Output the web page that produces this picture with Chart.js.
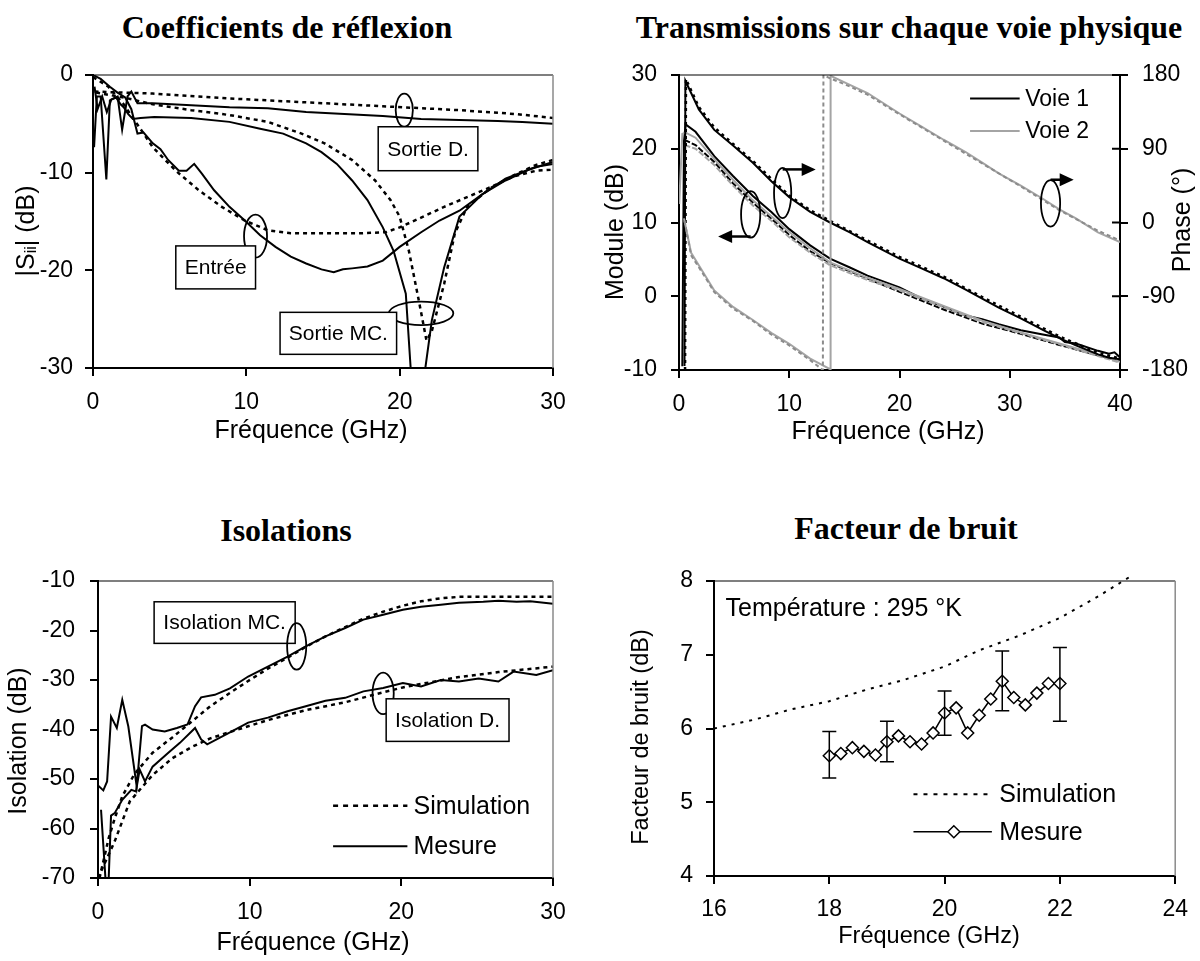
<!DOCTYPE html>
<html>
<head>
<meta charset="utf-8">
<script src="https://cdn.jsdelivr.net/npm/chart.js@4/dist/chart.umd.min.js"></script>
<style>
  body { margin:0; background:#fff; width:1200px; height:961px; position:relative; overflow:hidden; }
  .ttl { position:absolute; width:600px; text-align:center; line-height:40px;
         font:bold 32px "Liberation Serif","Times New Roman",serif; color:#000; white-space:nowrap; }
  canvas { position:absolute; }
</style>
</head>
<body>
<div class="ttl" style="left:-13px;top:9px">Coefficients de réflexion</div>
<div class="ttl" style="left:609px;top:9px">Transmissions sur chaque voie physique</div>
<div class="ttl" style="left:-14px;top:512px">Isolations</div>
<div class="ttl" style="left:606px;top:510px">Facteur de bruit</div>

<canvas id="cRefl" width="600" height="480" style="left:0;top:0"></canvas>
<canvas id="cTrans" width="600" height="480" style="left:600px;top:0"></canvas>
<canvas id="cIso" width="600" height="481" style="left:0;top:480px"></canvas>
<canvas id="cNf" width="600" height="481" style="left:600px;top:480px"></canvas>

<script>
// ---- Coefficients de réflexion (GHz / dB)
const entreeMesF = [0, 0.5, 1.1, 1.6, 2.1, 2.5, 2.9, 3.3, 3.9, 4.4, 4.9, 5.6, 6.1, 6.6, 7.1, 7.9, 8.9, 9.9, 10.9, 11.9, 12.9, 13.9, 14.9, 15.7, 16.3, 16.9, 17.9, 18.9, 20, 21.4, 22.6, 23.9, 25.4, 26.9, 28.4, 30];
const entreeMesDb = [0, -0.4, -1.2, -1.8, -2.3, -3.5, -6, -5.9, -7, -7.6, -8.7, -9.8, -9.8, -9.1, -10.1, -11.8, -13.5, -14.9, -16.4, -17.6, -18.6, -19.3, -19.9, -20.2, -19.9, -19.8, -19.6, -19, -17.6, -16.1, -14.9, -13.9, -12.2, -10.8, -9.7, -8.9];
const entreeSimF = [0, 1, 2, 3, 3.9, 5.4, 6.9, 8.4, 9.9, 11.4, 12.9, 15.1, 17.6, 19.1, 20, 21.4, 22.9, 24.4, 25.9, 27.4, 28.9, 30];
const entreeSimDb = [-0.2, -1.2, -3, -5.3, -7.4, -9.8, -11.8, -13.5, -14.9, -15.9, -16.2, -16.2, -16.2, -16.1, -15.6, -14.6, -13.5, -12.5, -11.5, -10.4, -9.8, -9.7];
const sortieDMesF = [0.07, 0.25, 0.5, 0.87, 1.1, 1.6, 1.9, 2.25, 2.5, 2.9, 3.9, 6.4, 8.9, 11.4, 13.9, 16.4, 18.9, 21.4, 23.9, 26.4, 28, 30];
const sortieDMesDb = [-7.4, -2.2, -2.2, -10.7, -2.6, -2.2, -5.6, -2.2, -1.7, -2.9, -2.9, -3.1, -3.3, -3.4, -3.8, -4.0, -4.2, -4.5, -4.6, -4.7, -4.8, -5.0];
const sortieDSimF = [0.1, 3.9, 8.9, 13.9, 18.9, 23.9, 27.6, 30];
const sortieDSimDb = [-1.7, -1.9, -2.4, -2.8, -3.2, -3.6, -4.0, -4.4];
const sortieMcMesF = [0.1, 0.3, 0.6, 0.9, 1.2, 1.5, 1.8, 2.0, 2.3, 2.6, 3.1, 4, 6.4, 8.9, 10.9, 12.4, 13.9, 14.9, 15.9, 16.9, 17.9, 18.9, 19.6, 20.4, 20.8, 21.5, 22.1, 22.9, 23.9, 25.4, 26.9, 28.9, 30];
const sortieMcMesDb = [-1.2, -3.5, -2.2, -3.8, -2.5, -2.3, -3.0, -3.3, -4.0, -4.5, -4.4, -4.3, -4.4, -4.8, -5.5, -6.0, -7.0, -7.9, -9.1, -10.8, -12.8, -15.6, -18.0, -22.4, -32, -32, -25.1, -19.7, -14.5, -12.2, -10.6, -9.4, -9.1];
const sortieMcSimF = [0.2, 2, 3.9, 6.4, 8.9, 11.4, 13.6, 15.1, 16.9, 18.4, 19.4, 20, 20.6, 21.25, 21.75, 22.1, 22.9, 23.6, 24.4, 25.9, 27.4, 28.9, 30];
const sortieMcSimDb = [-1.8, -2.3, -3.0, -3.6, -4.1, -4.8, -6.0, -7.0, -8.7, -10.8, -12.8, -14.5, -18, -23.1, -27.2, -26.2, -21.4, -16.2, -13.5, -11.6, -10.3, -9.2, -8.7];

// ---- Transmissions : module (dB) et phase (°)
const v1ModMesF = [0.3, 0.45, 0.6, 1.5, 3.2, 4.9, 6.7, 8.4, 10, 11.9, 13.7, 15.5, 17.1, 20, 22, 24, 26, 27.5, 29, 31, 33, 34.5, 35, 36, 38, 39, 39.5, 40];
const v1ModMesDb = [-9.5, 21, 23.3, 22.3, 19, 16.3, 13.6, 11.4, 9.1, 6.9, 5.1, 3.9, 2.8, 1.2, -0.3, -1.4, -2.6, -3.1, -3.8, -4.6, -5.2, -5.6, -6.2, -6.4, -7.4, -7.8, -7.6, -8.3];
const v1ModSimF = [0.5, 1.5, 3.2, 4.9, 6.7, 8.4, 10, 11.9, 13.7, 17.1, 20, 24, 27.5, 31, 34.5, 38, 40];
const v1ModSimDb = [21.2, 20.5, 18.2, 15.3, 12.7, 10.5, 8.3, 6.1, 4.5, 2.4, 0.6, -1.8, -3.7, -5.1, -6.6, -8, -8.8];
const v2ModMesF = [0.02, 0.3, 0.6, 1.5, 3.2, 4.9, 6.7, 8.4, 10, 11.9, 13.7, 17.1, 20, 24, 27.5, 31, 34.5, 38, 40];
const v2ModMesDb = [12.5, 22, 22.2, 21.5, 18.6, 15.8, 13, 10.8, 8.7, 6.5, 4.6, 2.5, 1, -1.3, -3.3, -4.9, -6.4, -7.9, -8.9];
const v2ModSimF = [0.5, 1.5, 3.2, 4.9, 6.7, 8.4, 10, 11.9, 13.7, 17.1, 20, 24, 27.5, 31, 34.5, 38, 40];
const v2ModSimDb = [20.5, 20, 17.8, 15, 12.3, 10.2, 8, 5.9, 4.2, 2.2, 0.8, -1.5, -3.5, -5, -6.5, -8.1, -9];
const v1PhMesF = [0.5, 0.58, 1.8, 3.2, 4.9, 6.7, 8.4, 10, 11.9, 13.7, 15.5, 17.1, 20, 22, 24, 26, 27.5, 29, 31, 33, 34.5, 36, 38, 39, 40];
const v1PhMesDeg = [-175, 173, 138, 113, 94, 73, 50, 31, 13, 0, -12, -24, -44, -56, -68, -82, -93, -104, -117, -131, -141, -150, -161, -165, -167];
const v1PhSimF = [0.55, 0.63, 1.8, 3.2, 4.9, 6.7, 8.4, 10, 11.9, 13.7, 17.1, 20, 24, 27.5, 31, 34.5, 38, 40];
const v1PhSimDeg = [-180, 175, 141, 116, 96, 75, 53, 33, 15, 2, -22, -42, -66, -91, -115, -139, -159, -166];
const v2PhMesF = [0.45, 1.1, 2.2, 3.2, 4.9, 6.7, 8.4, 10, 11.9, 13.7, 13.75, 15.5, 17.1, 20, 22, 24, 26, 27.5, 29, 31, 33, 34.5, 36, 38, 40];
const v2PhMesDeg = [5, -37, -61, -83, -103, -119, -135, -148, -166, -179, 179, 168, 158, 133, 117, 101, 86, 73, 60, 45, 29, 16, 5, -12, -24];
const v2PhSimF = [0.5, 1.1, 2.2, 3.2, 4.9, 6.7, 8.4, 10, 11.9, 13.05, 13.1, 13.7, 15.5, 17.1, 20, 24, 27.5, 31, 34.5, 38, 40];
const v2PhSimDeg = [2, -40, -63, -85, -105, -120, -137, -150, -168, -180, 180, 176, 166, 156, 132, 100, 72, 44, 15, -10, -22];

// ---- Isolations (GHz / dB)
const isoMcMesF = [0, 0.35, 0.6, 0.73, 0.86, 1.24, 1.6, 2.0, 2.37, 2.55, 2.9, 3.1, 3.6, 4.4, 5.2, 5.9, 6.4, 6.8, 7.7, 8.7, 9.9, 11.2, 12.5, 13.7, 15, 16.3, 17.5, 18.8, 20.1, 21.3, 22.6, 23.8, 25.4, 26.4, 27.6, 28.5, 30];
const isoMcMesDb = [-51.3, -52.3, -50.5, -44, -37.4, -39.7, -34, -39.4, -47.5, -51.5, -39.3, -39, -40, -40.4, -39.7, -39, -35.3, -33.5, -33, -31.7, -29.3, -27.3, -25.3, -23.2, -21.2, -19.5, -17.8, -16.8, -15.8, -15.2, -14.8, -14.4, -14.2, -14, -14.2, -14.1, -14.6];
const isoMcSimF = [0.1, 0.7, 1.1, 1.6, 2.4, 3.6, 4.9, 6.1, 7.4, 8.7, 9.9, 11.2, 12.5, 13.7, 15, 16.3, 17.5, 18.8, 20.1, 21.3, 22.6, 23.8, 30];
const isoMcSimDb = [-70, -62, -58, -53.5, -49, -44.7, -41.6, -38.6, -35.3, -32.6, -30.2, -27.7, -25.5, -23.3, -21.2, -19.3, -17.6, -16.2, -15, -14.1, -13.5, -13.2, -13.2];
const isoDMesF = [0.2, 0.5, 0.7, 0.86, 1.1, 1.6, 2.2, 2.5, 2.75, 3.1, 3.6, 4.6, 5.4, 6.4, 6.8, 7.2, 8.7, 9.9, 11.2, 12.5, 13.7, 15, 16.3, 17.5, 18.8, 20.1, 21.3, 22.6, 23.8, 25.1, 26.4, 27.4, 28.9, 30];
const isoDMesDb = [-56.2, -70.5, -70.5, -57.4, -56.9, -54.2, -52.2, -52.5, -48.1, -50.5, -47.5, -44.8, -42.7, -39.7, -42, -43, -40.6, -38.6, -37.6, -36.3, -35.3, -34.2, -33.6, -32.3, -31.6, -30.6, -31.3, -30, -30.3, -29.7, -30.3, -28.3, -29, -28];
const isoDSimF = [0, 1.1, 2.1, 3.6, 4.9, 6.2, 7.4, 8.7, 11.2, 13.7, 16.3, 18.8, 20.1, 21.3, 23.8, 26.4, 30];
const isoDSimDb = [-70, -62.6, -54.5, -49.2, -45.8, -43.5, -41.8, -40.5, -38.1, -36.1, -34.5, -32.5, -31.5, -30.8, -29.4, -28.4, -27.3];

// ---- Facteur de bruit (GHz / dB)
const nfSimF = [16, 16.7, 17.34, 18, 18.66, 19.3, 20, 20.6, 21.3, 22, 22.64, 23.24];
const nfSimDb = [6.0, 6.12, 6.26, 6.37, 6.53, 6.66, 6.84, 7.06, 7.26, 7.5, 7.78, 8.07];
const nfMesF = [18, 18.2, 18.4, 18.6, 18.8, 19, 19.2, 19.4, 19.6, 19.8, 20, 20.2, 20.4, 20.6, 20.8, 21, 21.2, 21.4, 21.6, 21.8, 22];
const nfMesDb = [5.63, 5.66, 5.74, 5.69, 5.64, 5.82, 5.9, 5.82, 5.79, 5.94, 6.21, 6.28, 5.94, 6.18, 6.4, 6.64, 6.42, 6.32, 6.48, 6.61, 6.61];
const nfErrF = [18, 19, 20, 21, 22];
const nfErrLo = [5.33, 5.55, 5.91, 6.24, 6.1];
const nfErrHi = [5.96, 6.1, 6.51, 7.05, 7.1];

const SANS = '"Liberation Sans", Arial, sans-serif';
const GREY = '#a4a4a4';

function ser(xs, ys, o) {
  return Object.assign({
    data: xs.map((x, i) => ({ x, y: ys[i] })),
    showLine: true, pointRadius: 0, borderColor: '#000', borderWidth: 2,
    fill: false, tension: 0
  }, o);
}

function axis(pos, min, max, step, size, pad, extra) {
  return Object.assign({
    type: 'linear', position: pos, min, max,
    ticks: { stepSize: step, padding: pad, color: '#000', font: { family: SANS, size: 23 }, maxRotation: 0, autoSkip: false },
    grid: { drawOnChartArea: false, drawTicks: true, tickLength: 8, color: '#000', lineWidth: 2 },
    border: { display: true, color: '#000', width: 2 },
    afterFit: s => { if (s.isHorizontal()) s.height = size; else s.width = size; }
  }, extra || {});
}

// frame, annotations, legends, error bars and axis titles
const deco = {
  id: 'deco',
  afterDatasetsDraw(chart, args, o) {
    const { ctx, chartArea: a, scales } = chart;
    const sx = scales.x, sy = scales.y;
    const px = v => sx.getPixelForValue(v), py = v => sy.getPixelForValue(v);
    ctx.save();
    ctx.strokeStyle = '#000'; ctx.lineWidth = 1.2;
    ctx.beginPath(); ctx.moveTo(a.left, a.top); ctx.lineTo(a.right, a.top); ctx.stroke();
    if (o.greyRight) {
      ctx.strokeStyle = '#8a8a8a'; ctx.lineWidth = 1.5;
      ctx.beginPath(); ctx.moveTo(a.right, a.top); ctx.lineTo(a.right, a.bottom); ctx.stroke();
    }
    if (o.innerTicks) {
      const s2 = scales[o.innerTicks];
      ctx.strokeStyle = '#000'; ctx.lineWidth = 2;
      s2.ticks.forEach(t => {
        const y = s2.getPixelForValue(t.value);
        ctx.beginPath(); ctx.moveTo(a.right - 8, y); ctx.lineTo(a.right, y); ctx.stroke();
      });
    }
    if (o.errors) {
      const e = o.errors;
      ctx.strokeStyle = '#000'; ctx.lineWidth = 1.5;
      e.x.forEach((x, i) => {
        const X = px(x), y0 = py(e.lo[i]), y1 = py(e.hi[i]);
        ctx.beginPath();
        ctx.moveTo(X, y0); ctx.lineTo(X, y1);
        ctx.moveTo(X - 7, y0); ctx.lineTo(X + 7, y0);
        ctx.moveTo(X - 7, y1); ctx.lineTo(X + 7, y1);
        ctx.stroke();
      });
    }
    (o.notes || []).forEach(n => {
      ctx.setLineDash([]);
      if (n.type === 'box') {
        const x0 = px(n.x0), x1 = px(n.x1), y0 = py(n.y0), y1 = py(n.y1);
        ctx.fillStyle = '#fff'; ctx.fillRect(x0, y0, x1 - x0, y1 - y0);
        ctx.strokeStyle = '#000'; ctx.lineWidth = 1.5; ctx.strokeRect(x0, y0, x1 - x0, y1 - y0);
        ctx.fillStyle = '#000'; ctx.font = '21px ' + SANS; ctx.textAlign = 'center'; ctx.textBaseline = 'middle';
        ctx.fillText(n.text, (x0 + x1) / 2, (y0 + y1) / 2 + 1);
      } else if (n.type === 'ell') {
        const cx = px(n.x), cy = py(n.y);
        ctx.strokeStyle = '#000'; ctx.lineWidth = 1.8;
        ctx.beginPath();
        ctx.ellipse(cx, cy, Math.abs(px(n.x + n.rx) - cx), Math.abs(py(n.y + n.ry) - cy), 0, 0, Math.PI * 2);
        ctx.stroke();
      } else if (n.type === 'arrow') {
        const x0 = px(n.x0), x1 = px(n.x1), y = py(n.y), dir = Math.sign(x1 - x0);
        ctx.strokeStyle = '#000'; ctx.lineWidth = 2.5;
        ctx.beginPath(); ctx.moveTo(x0, y); ctx.lineTo(x1 - dir * 12, y); ctx.stroke();
        ctx.fillStyle = '#000';
        ctx.beginPath(); ctx.moveTo(x1, y); ctx.lineTo(x1 - dir * 14, y - 6.5); ctx.lineTo(x1 - dir * 14, y + 6.5); ctx.closePath(); ctx.fill();
      } else if (n.type === 'key') {
        const x0 = px(n.x0), x1 = px(n.x1), y = py(n.y);
        ctx.strokeStyle = n.color || '#000'; ctx.lineWidth = n.width || 2;
        ctx.setLineDash(n.dash || []);
        ctx.beginPath(); ctx.moveTo(x0, y); ctx.lineTo(x1, y); ctx.stroke();
        ctx.setLineDash([]);
        if (n.diamond) {
          const dx = px(n.diamond), r = 6;
          ctx.fillStyle = '#fff'; ctx.strokeStyle = '#000'; ctx.lineWidth = 1.5;
          ctx.beginPath(); ctx.moveTo(dx - r, y); ctx.lineTo(dx, y - r); ctx.lineTo(dx + r, y); ctx.lineTo(dx, y + r); ctx.closePath();
          ctx.fill(); ctx.stroke();
        }
        ctx.fillStyle = '#000'; ctx.font = (n.size || 24) + 'px ' + SANS; ctx.textAlign = 'left'; ctx.textBaseline = 'middle';
        ctx.fillText(n.text, px(n.tx), y + 1);
      } else if (n.type === 'text') {
        ctx.fillStyle = '#000'; ctx.font = (n.size || 24) + 'px ' + SANS; ctx.textAlign = 'left'; ctx.textBaseline = 'middle';
        ctx.fillText(n.text, px(n.x), py(n.y));
      }
    });
    ctx.restore();
  },
  afterDraw(chart, args, o) {
    const ctx = chart.ctx;
    (o.titles || []).forEach(t => {
      const parts = t.parts || [{ t: t.text }];
      ctx.save();
      ctx.translate(t.x, t.y);
      if (t.rot) ctx.rotate(t.rot);
      ctx.fillStyle = '#000'; ctx.textBaseline = 'middle'; ctx.textAlign = 'left';
      let w = 0;
      parts.forEach(p => { ctx.font = (p.size || t.size || 25) + 'px ' + SANS; p.w = ctx.measureText(p.t).width; w += p.w; });
      let x = -w / 2;
      parts.forEach(p => { ctx.font = (p.size || t.size || 25) + 'px ' + SANS; ctx.fillText(p.t, x, p.dy || 0); x += p.w; });
      ctx.restore();
    });
  }
};
Chart.register(deco);

const base = {
  responsive: false, animation: false, devicePixelRatio: 1,
  plugins: { legend: { display: false }, tooltip: { enabled: false } }
};
function opts(padding, scales, decoOpts) {
  return Object.assign({}, base, {
    layout: { padding },
    scales,
    plugins: Object.assign({}, base.plugins, { deco: decoOpts })
  });
}

// Coefficients de réflexion
new Chart(document.getElementById('cRefl'), {
  type: 'scatter',
  data: { datasets: [
    ser(sortieDSimF, sortieDSimDb, { borderDash: [4, 4], borderWidth: 2.5 }),
    ser(entreeSimF, entreeSimDb, { borderDash: [4, 4], borderWidth: 2.5 }),
    ser(sortieMcSimF, sortieMcSimDb, { borderDash: [4, 4], borderWidth: 2.5 }),
    ser(sortieDMesF, sortieDMesDb),
    ser(entreeMesF, entreeMesDb),
    ser(sortieMcMesF, sortieMcMesDb)
  ] },
  options: opts({ left: 0, top: 75, right: 47, bottom: 62 }, {
    x: axis('bottom', 0, 30, 10, 50, 13),
    y: axis('left', -30, 0, 10, 93, 12)
  }, {
    greyRight: true,
    notes: [
      { type: 'ell', x: 20.3, y: -3.6, rx: 0.56, ry: 1.7 },
      { type: 'box', x0: 18.6, x1: 25.1, y0: -5.3, y1: -9.8, text: 'Sortie D.' },
      { type: 'ell', x: 10.6, y: -16.5, rx: 0.75, ry: 2.2 },
      { type: 'box', x0: 5.4, x1: 10.6, y0: -17.5, y1: -21.9, text: 'Entrée' },
      { type: 'ell', x: 21.4, y: -24.4, rx: 2.1, ry: 1.2 },
      { type: 'box', x0: 12.2, x1: 19.8, y0: -24.3, y1: -28.6, text: 'Sortie MC.' }
    ],
    titles: [
      { text: 'Fréquence (GHz)', x: 311, y: 431 },
      { x: 27, y: 231, rot: -Math.PI / 2, parts: [{ t: '|S' }, { t: 'ii', size: 16, dy: 5 }, { t: '| (dB)' }] }
    ]
  })
});

// Transmissions sur chaque voie physique
new Chart(document.getElementById('cTrans'), {
  type: 'scatter',
  data: { datasets: [
    ser(v2PhSimF, v2PhSimDeg, { yAxisID: 'y2', borderColor: '#8c8c8c', borderDash: [4, 3], borderWidth: 2 }),
    ser(v2PhMesF, v2PhMesDeg, { yAxisID: 'y2', borderColor: GREY, borderWidth: 2 }),
    ser(v1PhSimF, v1PhSimDeg, { yAxisID: 'y2', borderDash: [3, 4], borderWidth: 2.5 }),
    ser(v1PhMesF, v1PhMesDeg, { yAxisID: 'y2', borderWidth: 2 }),
    ser(v2ModSimF, v2ModSimDb, { borderColor: GREY, borderDash: [6, 2], borderWidth: 2 }),
    ser(v2ModMesF, v2ModMesDb, { borderColor: GREY, borderWidth: 2 }),
    ser(v1ModSimF, v1ModSimDb, { borderDash: [6, 2], borderWidth: 2 }),
    ser(v1ModMesF, v1ModMesDb, { borderWidth: 2 })
  ] },
  options: opts({ left: 0, top: 75, right: 0, bottom: 60 }, {
    x: axis('bottom', 0, 40, 10, 50, 13),
    y: axis('left', -10, 30, 10, 79, 14),
    y2: axis('right', -180, 180, 90, 80, 14)
  }, {
    innerTicks: 'y2',
    notes: [
      { type: 'key', x0: 26.4, x1: 30.9, y: 26.8, tx: 31.4, text: 'Voie 1', size: 23 },
      { type: 'key', x0: 26.4, x1: 30.9, y: 22.4, tx: 31.4, text: 'Voie 2', color: GREY, size: 23 },
      { type: 'ell', x: 9.4, y: 14, rx: 0.78, ry: 3.4 },
      { type: 'arrow', x0: 9.4, x1: 12.4, y: 17.2 },
      { type: 'ell', x: 6.5, y: 11.1, rx: 0.87, ry: 3.15 },
      { type: 'arrow', x0: 6.5, x1: 3.55, y: 8.1 },
      { type: 'ell', x: 33.7, y: 12.6, rx: 0.87, ry: 3.15 },
      { type: 'arrow', x0: 33.7, x1: 35.8, y: 15.8 }
    ],
    titles: [
      { text: 'Fréquence (GHz)', x: 288, y: 432 },
      { text: 'Module (dB)', x: 16, y: 232, rot: -Math.PI / 2 },
      { text: 'Phase (°)', x: 583, y: 220, rot: -Math.PI / 2 }
    ]
  })
});

// Isolations
new Chart(document.getElementById('cIso'), {
  type: 'scatter',
  data: { datasets: [
    ser(isoMcSimF, isoMcSimDb, { borderDash: [4, 4], borderWidth: 2.5 }),
    ser(isoDSimF, isoDSimDb, { borderDash: [4, 4], borderWidth: 2.5 }),
    ser(isoMcMesF, isoMcMesDb),
    ser(isoDMesF, isoDMesDb)
  ] },
  options: opts({ left: 0, top: 101, right: 47, bottom: 33 }, {
    x: axis('bottom', 0, 30, 10, 50, 13),
    y: axis('left', -70, -10, 10, 98, 15)
  }, {
    greyRight: true,
    notes: [
      { type: 'box', x0: 3.7, x1: 13.0, y0: -14.2, y1: -22.6, text: 'Isolation MC.' },
      { type: 'ell', x: 13.1, y: -23.2, rx: 0.63, ry: 4.7 },
      { type: 'ell', x: 18.8, y: -32.7, rx: 0.7, ry: 4.2 },
      { type: 'box', x0: 19.0, x1: 27.1, y0: -33.8, y1: -42.4, text: 'Isolation D.' },
      { type: 'key', x0: 15.5, x1: 20.4, y: -55.4, tx: 20.8, text: 'Simulation', dash: [5, 5], width: 2.5, size: 25 },
      { type: 'key', x0: 15.5, x1: 20.4, y: -63.6, tx: 20.8, text: 'Mesure', size: 25 }
    ],
    titles: [
      { text: 'Fréquence (GHz)', x: 313, y: 463 },
      { text: 'Isolation (dB)', x: 19, y: 261, rot: -Math.PI / 2 }
    ]
  })
});

// Facteur de bruit
new Chart(document.getElementById('cNf'), {
  type: 'scatter',
  data: { datasets: [
    ser(nfSimF, nfSimDb, { borderDash: [3, 6], borderWidth: 2, clip: false }),
    ser(nfMesF, nfMesDb, { borderWidth: 1.5, pointRadius: 6, pointStyle: 'rectRot',
      pointBackgroundColor: '#fff', pointBorderColor: '#000', pointBorderWidth: 1.5 })
  ] },
  options: opts({ left: 0, top: 101, right: 24, bottom: 35 }, {
    x: axis('bottom', 16, 24, 2, 50, 12),
    y: axis('left', 4, 8, 1, 114, 13)
  }, {
    greyRight: true,
    errors: { x: nfErrF, lo: nfErrLo, hi: nfErrHi },
    notes: [
      { type: 'text', x: 16.2, y: 7.62, text: 'Température : 295 °K', size: 25 },
      { type: 'key', x0: 19.46, x1: 20.82, y: 5.11, tx: 20.95, text: 'Simulation', dash: [4, 6], width: 2, size: 25 },
      { type: 'key', x0: 19.46, x1: 20.82, y: 4.6, tx: 20.95, text: 'Mesure', diamond: 20.16, width: 1.5, size: 25 }
    ],
    titles: [
      { text: 'Fréquence (GHz)', x: 329, y: 457, size: 23.5 },
      { text: 'Facteur de bruit (dB)', x: 42, y: 257, rot: -Math.PI / 2, size: 23.5 }
    ]
  })
});
</script>
</body>
</html>
